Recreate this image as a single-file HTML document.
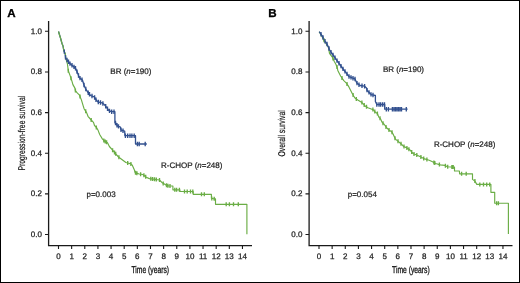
<!DOCTYPE html>
<html><head><meta charset="utf-8"><style>
html,body{margin:0;padding:0;background:#fff;}
body{width:520px;height:283px;overflow:hidden;}
svg{display:block;}
text{font-family:"Liberation Sans",sans-serif;text-rendering:geometricPrecision;}
.tl{font-size:8px;fill:#222;stroke:#222;stroke-width:0.25px;}
.an{font-size:8px;fill:#222;stroke:#222;stroke-width:0.22px;}
.at{font-size:9.8px;fill:#111;stroke:#111;stroke-width:0.3px;}
.ar{stroke-width:0.18px;}
.pl{font-size:11.6px;font-weight:bold;fill:#000;stroke:#000;stroke-width:0.3px;}
</style></head><body>
<svg width="520" height="283" viewBox="0 0 520 283">
<rect x="0.5" y="0.5" width="519" height="282" fill="#fff" stroke="#000" stroke-width="1"/>
<path d="M48.6 21V245.6H252" fill="none" stroke="#1a1a1a" stroke-width="1.3"/>
<path d="M45 234.50H48.6M45 193.86H48.6M45 153.22H48.6M45 112.58H48.6M45 71.94H48.6M45 31.30H48.6M58.50 245.6V249M71.64 245.6V249M84.78 245.6V249M97.92 245.6V249M111.06 245.6V249M124.20 245.6V249M137.34 245.6V249M150.48 245.6V249M163.62 245.6V249M176.76 245.6V249M189.90 245.6V249M203.04 245.6V249M216.18 245.6V249M229.32 245.6V249M242.46 245.6V249" stroke="#1a1a1a" stroke-width="1.1" fill="none"/>
<path d="M309.1 21V245.6H512.5" fill="none" stroke="#1a1a1a" stroke-width="1.3"/>
<path d="M305.5 234.50H309.1M305.5 193.86H309.1M305.5 153.22H309.1M305.5 112.58H309.1M305.5 71.94H309.1M305.5 31.30H309.1M319.00 245.6V249M332.14 245.6V249M345.28 245.6V249M358.42 245.6V249M371.56 245.6V249M384.70 245.6V249M397.84 245.6V249M410.98 245.6V249M424.12 245.6V249M437.26 245.6V249M450.40 245.6V249M463.54 245.6V249M476.68 245.6V249M489.82 245.6V249M502.96 245.6V249" stroke="#1a1a1a" stroke-width="1.1" fill="none"/>
<polyline points="58.5,31.5 60.5,38.0 62.0,43.5 63.0,46.0 63.8,50.5 65.2,53.7 65.6,58.5 67.0,60.0 69.9,63.5 73.1,66.2 75.4,68.0 77.4,72.5 79.2,77.4 82.5,80.2 83.9,84.8 85.2,88.0 87.7,92.2 90.5,95.5 94.2,96.8 95.5,99.1 97.9,101.9 102.0,102.8 103.9,104.2 106.6,107.4 108.9,110.6 111.4,111.7 114.9,111.7 114.9,122.8 116.0,123.2 117.4,126.0 120.2,126.9 121.1,130.2 124.7,131.1 124.9,135.7 135.5,135.7 135.5,144.0 146.8,144.0" fill="none" stroke="#32508f" stroke-width="1.3" stroke-linejoin="round"/>
<polyline points="58.5,31.5 60.5,38.0 62.0,43.5 63.0,46.0 63.8,50.5 65.2,53.7 65.6,55.7 65.9,58.5 67.4,63.8 68.3,70.8 70.2,75.9 72.0,81.4 72.9,84.6 74.8,87.9 75.4,90.6 77.2,92.9 79.5,95.2 81.4,99.9 83.2,105.9 84.2,109.0 86.6,112.6 88.0,116.3 91.2,120.0 93.5,122.3 94.5,125.5 96.8,127.9 98.2,130.6 99.7,134.5 102.5,139.1 104.3,140.9 107.5,142.8 109.4,146.5 112.2,149.7 115.7,153.8 118.5,157.0 122.2,159.8 125.9,162.5 130.9,163.9 132.3,165.2 134.2,169.4 135.1,172.6 139.2,174.0 142.9,174.5 146.2,177.2 149.4,178.6 155.9,179.5 159.5,180.0 162.3,182.8 166.0,185.1 168.8,186.0 172.9,186.0 172.9,189.8 179.9,189.8 179.9,191.5 193.2,191.5 193.2,194.3 211.4,194.3 211.4,198.3 213.7,198.8 215.5,198.8 215.5,204.3 246.9,204.3 246.9,234.2" fill="none" stroke="#6aad45" stroke-width="1.15" stroke-linejoin="round"/>
<polyline points="319.2,31.7 322.9,38.2 325.0,42.0 328.6,47.8 329.5,53.4 332.3,57.1 334.2,61.2 336.0,64.5 337.4,68.2 337.8,70.5 340.6,76.0 343.8,80.6 346.6,83.4 348.9,86.9 351.2,91.5 352.6,94.3 354.9,98.0 358.2,100.3 361.9,102.6 365.1,105.9 367.9,107.7 373.2,109.7 375.1,112.0 377.4,113.4 378.8,117.1 380.6,118.9 382.0,122.2 384.3,124.5 386.6,127.7 388.9,130.0 391.7,131.7 393.5,134.9 395.4,139.1 398.2,141.4 400.9,143.7 403.7,146.5 406.9,147.9 409.7,149.7 412.0,152.5 413.5,153.8 417.2,155.2 420.9,157.1 424.6,158.9 429.2,160.3 432.5,161.7 435.7,163.5 440.3,164.9 444.9,165.4 447.4,166.8 454.5,167.1 454.5,171.0 459.4,171.0 459.6,173.8 472.5,173.8 472.5,179.4 474.9,181.1 476.8,184.4 490.9,184.4 490.9,192.3 494.7,192.3 494.7,203.2 508.4,203.2 508.4,234.0" fill="none" stroke="#6aad45" stroke-width="1.15" stroke-linejoin="round"/>
<polyline points="319.2,31.7 322.5,36.3 324.3,40.5 326.6,43.2 328.2,46.5 329.4,49.5 331.2,52.5 333.2,55.2 336.5,59.9 339.5,64.0 343.4,69.5 346.2,72.8 348.9,76.5 352.2,77.9 354.9,78.8 356.8,82.9 360.0,85.5 364.6,86.2 366.5,88.0 367.1,90.5 369.4,92.8 371.2,94.6 375.4,95.5 375.4,101.5 376.8,104.5 384.7,104.5 384.7,109.2 407.6,109.2" fill="none" stroke="#32508f" stroke-width="1.3" stroke-linejoin="round"/>
<path d="M64.3 49.4v4.4M65.5 55.1v4.4M67.0 57.8v4.4M68.5 59.6v4.4M70.0 61.4v4.4M72.0 63.1v4.4M74.0 64.7v4.4M75.5 66.0v4.4M77.0 69.4v4.4M78.5 73.3v4.4M80.0 75.9v4.4M82.0 77.6v4.4M84.0 82.8v4.4M85.8 86.8v4.4M88.2 90.6v4.4M89.5 92.1v4.4M92.0 93.8v4.4M94.6 95.3v4.4M96.0 97.5v4.4M98.3 99.8v4.4M100.5 100.3v4.4M102.9 101.3v4.4M105.7 104.1v4.4M107.5 106.5v4.4M109.5 108.7v4.4M111.7 109.5v4.4M114.0 109.5v4.4M115.5 120.8v4.4M117.0 123.0v4.4M118.5 124.2v4.4M121.0 127.6v4.4M123.0 128.5v4.4M125.4 133.5v4.4M127.7 133.5v4.4M130.0 133.5v4.4M131.9 133.5v4.4M134.2 133.5v4.4M137.4 141.8v4.4M139.2 141.8v4.4M145.2 141.8v4.4" stroke="#32508f" stroke-width="1.35"/>
<path d="M68.3 68.8v4.0M71.0 76.3v4.0M75.4 88.6v4.0M80.0 94.4v4.0M85.7 109.2v4.0M91.2 118.0v4.0M96.3 125.4v4.0M103.8 138.4v4.0M105.2 139.4v4.0M106.6 140.3v4.0M112.6 148.2v4.0M114.5 150.4v4.0M115.7 151.8v4.0M118.9 155.3v4.0M127.7 161.0v4.0M130.9 161.9v4.0M135.5 170.7v4.0M136.9 171.2v4.0M140.6 172.2v4.0M143.9 173.3v4.0M145.7 174.8v4.0M150.8 176.8v4.0M152.6 177.0v4.0M154.5 177.3v4.0M156.3 177.6v4.0M159.5 178.0v4.0M163.2 181.4v4.0M166.5 183.3v4.0M167.9 183.7v4.0M170.0 184.0v4.0M174.8 187.8v4.0M176.6 187.8v4.0M179.4 187.8v4.0M184.5 189.5v4.0M187.2 189.5v4.0M190.5 189.5v4.0M192.8 189.5v4.0M201.5 192.3v4.0M204.3 192.3v4.0M211.8 196.4v4.0M214.2 196.8v4.0M226.2 202.3v4.0M229.4 202.3v4.0M233.5 202.3v4.0M238.3 202.3v4.0" stroke="#6aad45" stroke-width="1.35"/>
<path d="M324.0 38.2v4.0M333.0 56.6v4.0M337.0 65.1v4.0M342.0 76.0v4.0M347.0 82.0v4.0M353.1 93.1v4.0M356.3 97.0v4.0M361.9 100.6v4.0M364.2 103.0v4.0M366.5 104.8v4.0M372.9 107.6v4.0M374.8 109.6v4.0M377.4 111.4v4.0M380.0 116.3v4.0M383.0 121.2v4.0M386.0 124.9v4.0M389.0 128.1v4.0M392.0 130.2v4.0M395.0 136.2v4.0M398.0 139.2v4.0M401.0 141.8v4.0M404.0 144.6v4.0M406.9 145.9v4.0M408.9 147.2v4.0M411.7 150.1v4.0M414.0 152.0v4.0M416.8 153.0v4.0M420.9 155.1v4.0M423.7 156.5v4.0M426.9 157.6v4.0M433.9 160.5v4.0M434.8 161.0v4.0M439.4 162.6v4.0M445.4 163.7v4.0M447.7 164.8v4.0M451.9 165.0v4.0M453.2 165.0v4.0M461.6 171.8v4.0M466.2 171.8v4.0M474.9 179.1v4.0M479.8 182.4v4.0M483.5 182.4v4.0M486.7 182.4v4.0M489.7 182.4v4.0M496.6 201.2v4.0M498.4 201.2v4.0" stroke="#6aad45" stroke-width="1.35"/>
<path d="M321.0 32.0v4.4M323.0 35.3v4.4M325.0 39.1v4.4M327.0 41.8v4.4M329.0 46.3v4.4M331.0 50.0v4.4M333.0 52.7v4.4M335.0 55.6v4.4M337.0 58.4v4.4M339.0 61.1v4.4M341.0 63.9v4.4M343.0 66.7v4.4M345.0 69.2v4.4M347.0 71.7v4.4M349.0 74.3v4.4M351.0 75.2v4.4M353.0 76.0v4.4M355.0 76.8v4.4M357.0 80.9v4.4M359.0 82.5v4.4M362.0 83.6v4.4M364.6 84.0v4.4M367.0 87.9v4.4M369.0 90.2v4.4M371.0 92.2v4.4M373.0 92.8v4.4M376.8 102.3v4.4M379.0 102.3v4.4M380.6 102.3v4.4M382.6 102.3v4.4M384.5 102.3v4.4M386.3 107.0v4.4M388.4 107.0v4.4M392.4 107.0v4.4M394.0 107.0v4.4M395.5 107.0v4.4M397.0 107.0v4.4M398.5 107.0v4.4M400.0 107.0v4.4M401.5 107.0v4.4M406.3 107.0v4.4" stroke="#32508f" stroke-width="1.35"/>
<g style="will-change:transform">
<text x="41.90" y="237.00" text-anchor="end" class="tl">0.0</text>
<text x="41.90" y="196.36" text-anchor="end" class="tl">0.2</text>
<text x="41.90" y="155.72" text-anchor="end" class="tl">0.4</text>
<text x="41.90" y="115.08" text-anchor="end" class="tl">0.6</text>
<text x="41.90" y="74.44" text-anchor="end" class="tl">0.8</text>
<text x="41.90" y="33.80" text-anchor="end" class="tl">1.0</text>
<text x="58.50" y="259.1" text-anchor="middle" class="tl">0</text>
<text x="71.64" y="259.1" text-anchor="middle" class="tl">1</text>
<text x="84.78" y="259.1" text-anchor="middle" class="tl">2</text>
<text x="97.92" y="259.1" text-anchor="middle" class="tl">3</text>
<text x="111.06" y="259.1" text-anchor="middle" class="tl">4</text>
<text x="124.20" y="259.1" text-anchor="middle" class="tl">5</text>
<text x="137.34" y="259.1" text-anchor="middle" class="tl">6</text>
<text x="150.48" y="259.1" text-anchor="middle" class="tl">7</text>
<text x="163.62" y="259.1" text-anchor="middle" class="tl">8</text>
<text x="176.76" y="259.1" text-anchor="middle" class="tl">9</text>
<text x="189.90" y="259.1" text-anchor="middle" class="tl">10</text>
<text x="203.04" y="259.1" text-anchor="middle" class="tl">11</text>
<text x="216.18" y="259.1" text-anchor="middle" class="tl">12</text>
<text x="229.32" y="259.1" text-anchor="middle" class="tl">13</text>
<text x="242.46" y="259.1" text-anchor="middle" class="tl">14</text>
<text x="302.40" y="237.00" text-anchor="end" class="tl">0.0</text>
<text x="302.40" y="196.36" text-anchor="end" class="tl">0.2</text>
<text x="302.40" y="155.72" text-anchor="end" class="tl">0.4</text>
<text x="302.40" y="115.08" text-anchor="end" class="tl">0.6</text>
<text x="302.40" y="74.44" text-anchor="end" class="tl">0.8</text>
<text x="302.40" y="33.80" text-anchor="end" class="tl">1.0</text>
<text x="319.00" y="259.1" text-anchor="middle" class="tl">0</text>
<text x="332.14" y="259.1" text-anchor="middle" class="tl">1</text>
<text x="345.28" y="259.1" text-anchor="middle" class="tl">2</text>
<text x="358.42" y="259.1" text-anchor="middle" class="tl">3</text>
<text x="371.56" y="259.1" text-anchor="middle" class="tl">4</text>
<text x="384.70" y="259.1" text-anchor="middle" class="tl">5</text>
<text x="397.84" y="259.1" text-anchor="middle" class="tl">6</text>
<text x="410.98" y="259.1" text-anchor="middle" class="tl">7</text>
<text x="424.12" y="259.1" text-anchor="middle" class="tl">8</text>
<text x="437.26" y="259.1" text-anchor="middle" class="tl">9</text>
<text x="450.40" y="259.1" text-anchor="middle" class="tl">10</text>
<text x="463.54" y="259.1" text-anchor="middle" class="tl">11</text>
<text x="476.68" y="259.1" text-anchor="middle" class="tl">12</text>
<text x="489.82" y="259.1" text-anchor="middle" class="tl">13</text>
<text x="502.96" y="259.1" text-anchor="middle" class="tl">14</text>
<text transform="translate(25.2,133.2) rotate(-90) scale(0.69,1)" text-anchor="middle" class="at ar">Progression-free survival</text>
<text transform="translate(285.2,133.4) rotate(-90) scale(0.69,1)" text-anchor="middle" class="at ar">Overall survival</text>
<text transform="translate(150.25,272.9) scale(0.69,1)" text-anchor="middle" class="at">Time (years)</text>
<text transform="translate(410.9,272.9) scale(0.69,1)" text-anchor="middle" class="at">Time (years)</text>
<text x="7.3" y="17.4" class="pl">A</text>
<text x="268.3" y="17.4" class="pl">B</text>
<text x="110.3" y="74.1" class="an">BR (<tspan font-style="italic">n</tspan>=190)</text>
<text x="161" y="167.7" class="an">R-CHOP (<tspan font-style="italic">n</tspan>=248)</text>
<text x="86.5" y="196.7" class="an">p=0.003</text>
<text x="382.9" y="72.1" class="an">BR (<tspan font-style="italic">n</tspan>=190)</text>
<text x="433.9" y="146.8" class="an">R-CHOP (<tspan font-style="italic">n</tspan>=248)</text>
<text x="347.7" y="197.2" class="an">p=0.054</text>
</g>
</svg>
</body></html>
